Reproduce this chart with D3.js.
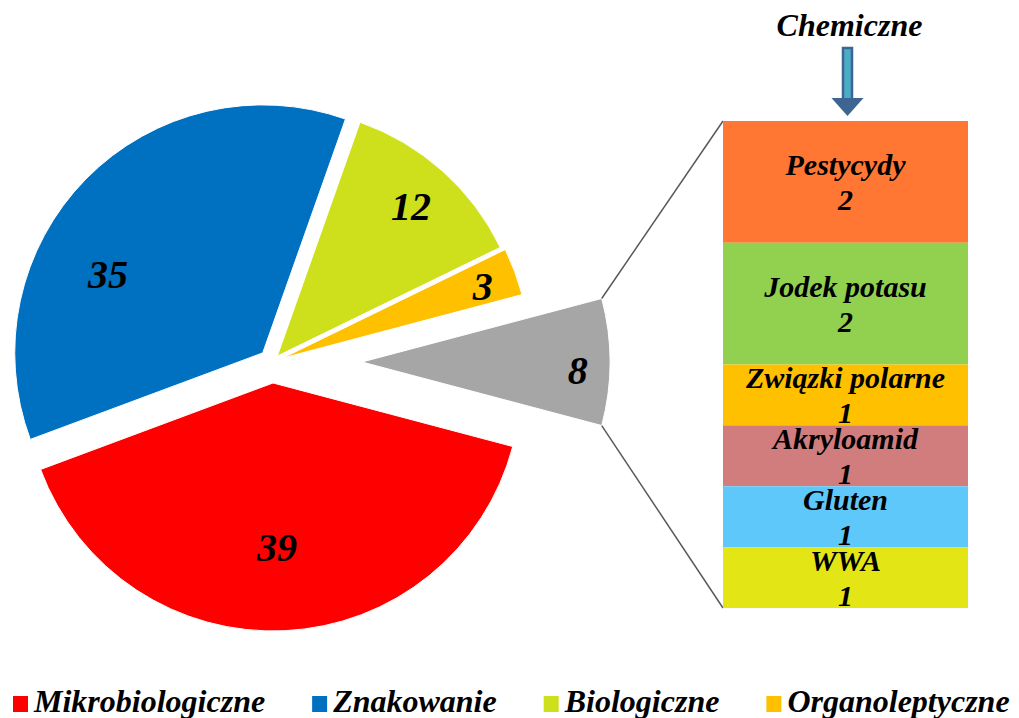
<!DOCTYPE html>
<html>
<head>
<meta charset="UTF-8">
<title>Chemiczne</title>
<script src="https://d3js.org/d3.v7.min.js"></script>
</head>
<body style="margin:0; background:#fff">
<div id="chart"></div>
<script>
// main pie
const categories = ["Mikrobiologiczne", "Znakowanie", "Biologiczne", "Organoleptyczne", "Chemiczne"];
const counts = [39, 35, 12, 3, 8];
// breakdown of "Chemiczne"
const chemLabels = ["Pestycydy", "Jodek potasu", "Związki polarne", "Akryloamid", "Gluten", "WWA"];
const chemCounts = [2, 2, 1, 1, 1, 1];

// styling
const pieColors = ["#ff0000", "#0070c0", "#cde01b", "#ffc000", "#a6a6a6"];
const barColors = ["#ff7733", "#92d050", "#ffc000", "#d27d7d", "#5fc8fa", "#e3e614"];
const explode = [21, 13, 8, 11, 90];
const labelFrac = [0.66, 0.70, 0.81, 0.86, 0.87];
const labelTurn = [1.4, -17.5, 0, 0.5, 2];   // degrees
const FONT = "Liberation Serif";

const W = 1019, H = 718;
const cx = 272, cy = 362, R = 248;

const svg = d3.select("#chart").append("svg")
    .attr("width", W).attr("height", H);

// every text gets the same italic bold serif
function label(sel, size) {
  return sel.attr("font-family", FONT)
    .attr("font-style", "italic")
    .attr("font-weight", "bold")
    .attr("font-size", size)
    .attr("fill", "#000");
}

const pieData = categories.map((c, i) => ({ name: c, value: counts[i], i }));
const total = d3.sum(counts);
const half = Math.PI * counts[4] / total;   // gray slice centred on the right

const pie = d3.pie().value(d => d.value).sort(null)
    .startAngle(Math.PI / 2 + half)
    .endAngle(Math.PI / 2 + half + 2 * Math.PI);

const arc = d3.arc().innerRadius(0).outerRadius(R);
const arcs = pie(pieData);

function origin(d) {
  const a = (d.startAngle + d.endAngle) / 2;
  const e = explode[d.data.i];
  return [cx + e * Math.sin(a), cy - e * Math.cos(a)];
}

const slices = svg.append("g");
slices.selectAll("path")
  .data(arcs)
  .enter().append("path")
    .attr("transform", d => `translate(${origin(d)})`)
    .attr("d", arc)
    .attr("fill", d => pieColors[d.data.i])
    .attr("stroke", "#fff")
    .attr("stroke-width", 1);

label(slices.selectAll("text")
  .data(arcs)
  .enter().append("text"), 40)
    .attr("transform", d => {
      const [ox, oy] = origin(d);
      const a = (d.startAngle + d.endAngle) / 2 + labelTurn[d.data.i] * Math.PI / 180;
      const r = R * labelFrac[d.data.i];
      return `translate(${ox + r * Math.sin(a)},${oy - r * Math.cos(a)})`;
    })
    .attr("text-anchor", "middle")
    .attr("dy", "0.35em")
    .text(d => d.data.value);

// stacked bar for Chemiczne
const barX0 = 723, barX1 = 968;
const y = d3.scaleLinear().domain([0, d3.sum(chemCounts)]).range([121, 608]);
const cum = d3.cumsum(chemCounts);
const barData = chemLabels.map((l, i) => ({ name: l, value: chemCounts[i], y0: cum[i] - chemCounts[i], y1: cum[i], i }));

// connector lines from the gray slice to the bar
const gray = arcs[4];
const [gx, gy] = origin(gray);
const pts = [gray.startAngle, gray.endAngle].map(a => [gx + R * Math.sin(a), gy - R * Math.cos(a)]);
svg.append("line")
    .attr("x1", pts[0][0]).attr("y1", pts[0][1])
    .attr("x2", barX0).attr("y2", y(0))
    .attr("stroke", "#595959").attr("stroke-width", 1.5);
svg.append("line")
    .attr("x1", pts[1][0]).attr("y1", pts[1][1])
    .attr("x2", barX0).attr("y2", y(d3.sum(chemCounts)))
    .attr("stroke", "#595959").attr("stroke-width", 1.5);

const bar = svg.append("g");
bar.selectAll("rect")
  .data(barData)
  .enter().append("rect")
    .attr("x", barX0)
    .attr("width", barX1 - barX0)
    .attr("y", d => y(d.y0))
    .attr("height", d => y(d.y1) - y(d.y0))
    .attr("fill", d => barColors[d.i]);

const barMid = (barX0 + barX1) / 2;
const segText = label(bar.selectAll("text")
  .data(barData)
  .enter().append("text"), 30)
    .attr("text-anchor", "middle");
segText.append("tspan")
    .attr("x", barMid)
    .attr("y", d => (y(d.y0) + y(d.y1)) / 2 - 17)
    .attr("dy", "0.35em")
    .text(d => d.name);
segText.append("tspan")
    .attr("x", barMid)
    .attr("y", d => (y(d.y0) + y(d.y1)) / 2 + 18)
    .attr("dy", "0.35em")
    .text(d => d.value);

// title + arrow
const ax = barMid + 2;
label(svg.append("text"), 32)
    .attr("x", barMid + 4).attr("y", 25)
    .attr("dy", "0.35em")
    .attr("text-anchor", "middle")
    .text(categories[4]);

svg.append("rect")
    .attr("x", ax - 4.5).attr("y", 48)
    .attr("width", 9).attr("height", 52)
    .attr("fill", "#4bacc6")
    .attr("stroke", "#3c6591").attr("stroke-width", 2.5);
svg.append("path")
    .attr("d", `M${ax - 16},98 L${ax + 16},98 L${ax},116 Z`)
    .attr("fill", "#3c6591");

// legend
const legend = svg.append("g").attr("transform", "translate(13,704)");
let lx = 0;
categories.slice(0, 4).forEach((c, i) => {
  const g = legend.append("g").attr("transform", `translate(${lx},0)`);
  g.append("rect")
      .attr("x", 0).attr("y", -8)
      .attr("width", 15).attr("height", 16)
      .attr("fill", pieColors[i]);
  const t = label(g.append("text"), 32)
      .attr("x", 21).attr("y", 8)
      .text(c);
  lx += 21 + t.node().getComputedTextLength() + 47;
});
</script>
</body>
</html>
